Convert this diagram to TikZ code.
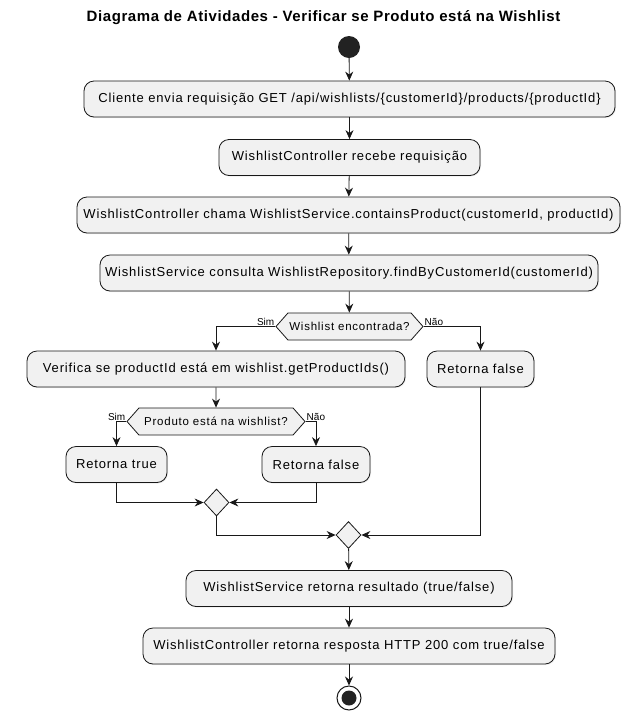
\documentclass[tikz,border=0pt]{standalone}
\usepackage{fontspec}
\setmainfont{Liberation Sans}
\newfontfamily\umlfont[LetterSpace=6.5]{Liberation Sans}
\newfontfamily\umltitlefont[LetterSpace=4]{Liberation Sans}
\usetikzlibrary{arrows.meta,shapes.geometric,shapes.symbols,shadows}
\definecolor{umlfill}{HTML}{F1F1F1}
\definecolor{umlline}{HTML}{181818}
\definecolor{umldot}{HTML}{222222}

\begin{document}
\begin{tikzpicture}[x=1pt,y=-1pt,
	action/.style={draw=umlline, fill=umlfill, line width=0.8pt, rounded corners=10pt, minimum height=36pt, inner xsep=0pt,
		font=\umlfont\fontsize{13}{15}\selectfont, drop shadow={shadow xshift=1pt, shadow yshift=-1pt, opacity=0.15}},
	choice/.style={signal, signal to=east and west, signal pointer angle=97, draw=umlline, fill=umlfill, line width=0.8pt,
		minimum height=27pt, inner xsep=0pt, font=\umlfont\fontsize{11.5}{14}\selectfont},
	merge/.style={diamond, draw=umlline, fill=umlfill, line width=0.8pt, minimum width=25pt, minimum height=27pt, inner sep=0pt},
	guard/.style={font=\fontsize{10}{12}\selectfont, inner sep=1pt},
	flow/.style={draw=umlline, line width=0.8pt, -{Stealth[length=9pt,width=8pt,inset=3pt]}}]
				\useasboundingbox (0,0) rectangle (628,716);
				
				\node [font=\umltitlefont\bfseries\fontsize{15}{17}\selectfont] (title) at (323.5,18) {Diagrama de Atividades - Verificar se Produto está na Wishlist};
				
				\node [circle, fill=umldot, minimum size=22pt, inner sep=0pt] (start) at (349,47) {};
				
				\node [action, minimum width=531pt] (a1) at (349.5,99) {Cliente envia requisição GET /api/wishlists/\{customerId\}/products/\{productId\}};
				\node [action, minimum width=261pt] (a2) at (349.5,157.5) {WishlistController recebe requisição};
				\node [action, minimum width=543pt] (a3) at (348.5,215) {WishlistController chama WishlistService.containsProduct(customerId, productId)};
				\node [action, minimum width=498pt] (a4) at (349,273) {WishlistService consulta WishlistRepository.findByCustomerId(customerId)};
				
				\node [choice, minimum width=147pt] (d1) at (349.5,326.5) {Wishlist encontrada?};
				\node [guard, anchor=south east] (sim1) at (d1.west) {Sim};
				\node [guard, anchor=south west] (nao1) at (d1.east) {Não};
				
				\node [action, minimum width=378pt] (a5) at (216,369) {Verifica se productId está em wishlist.getProductIds()};
				\node [action, minimum width=107pt] (a6) at (480.5,369) {Retorna false};
				
				\node [choice, minimum width=178pt] (d2) at (216,421.5) {Produto está na wishlist?};
				\node [guard, anchor=south east] (sim2) at (d2.west) {Sim};
				\node [guard, anchor=south west] (nao2) at (d2.east) {Não};
				
				\node [action, minimum width=101pt] (a7) at (116.5,464.5) {Retorna true};
				\node [action, minimum width=108pt] (a8) at (316,464.5) {Retorna false};
				
				\node [merge] (m1) at (216.5,502.5) {};
				\node [merge] (m2) at (348.5,535) {};
				
				\node [action, minimum width=326pt] (a9) at (349,588.5) {WishlistService retorna resultado (true/false)};
				\node [action, minimum width=412pt] (a10) at (349,646) {WishlistController retorna resposta HTTP 200 com true/false};
				
				\node [circle, draw=umlline, line width=1pt, minimum size=24pt, inner sep=0pt] (stop) at (349,698) {};
				\node [circle, fill=umldot, minimum size=15pt, inner sep=0pt] (stopdot) at (stop) {};
				
				% % % % % % % % % % % % % % % % % % % % % % % % % %
				
				\draw [flow] (start) -- (a1);
				\draw [flow] (a1) -- (a2);
				\draw [flow] (a2) -- (a3);
				\draw [flow] (a3) -- (a4);
				\draw [flow] (a4) -- (d1);
				\draw [flow] (d1.west) -| (a5);
				\draw [flow] (d1.east) -| (a6);
				\draw [flow] (a5) -- (d2);
				\draw [flow] (d2.west) -| (a7);
				\draw [flow] (d2.east) -| (a8);
				\draw [flow] (a7) |- (m1);
				\draw [flow] (a8) |- (m1);
				\draw [flow] (m1) |- (m2);
				\draw [flow] (a6) |- (m2);
				\draw [flow] (m2) -- (a9);
				\draw [flow] (a9) -- (a10);
				\draw [flow] (a10) -- (stop);
\end{tikzpicture}
\end{document}
